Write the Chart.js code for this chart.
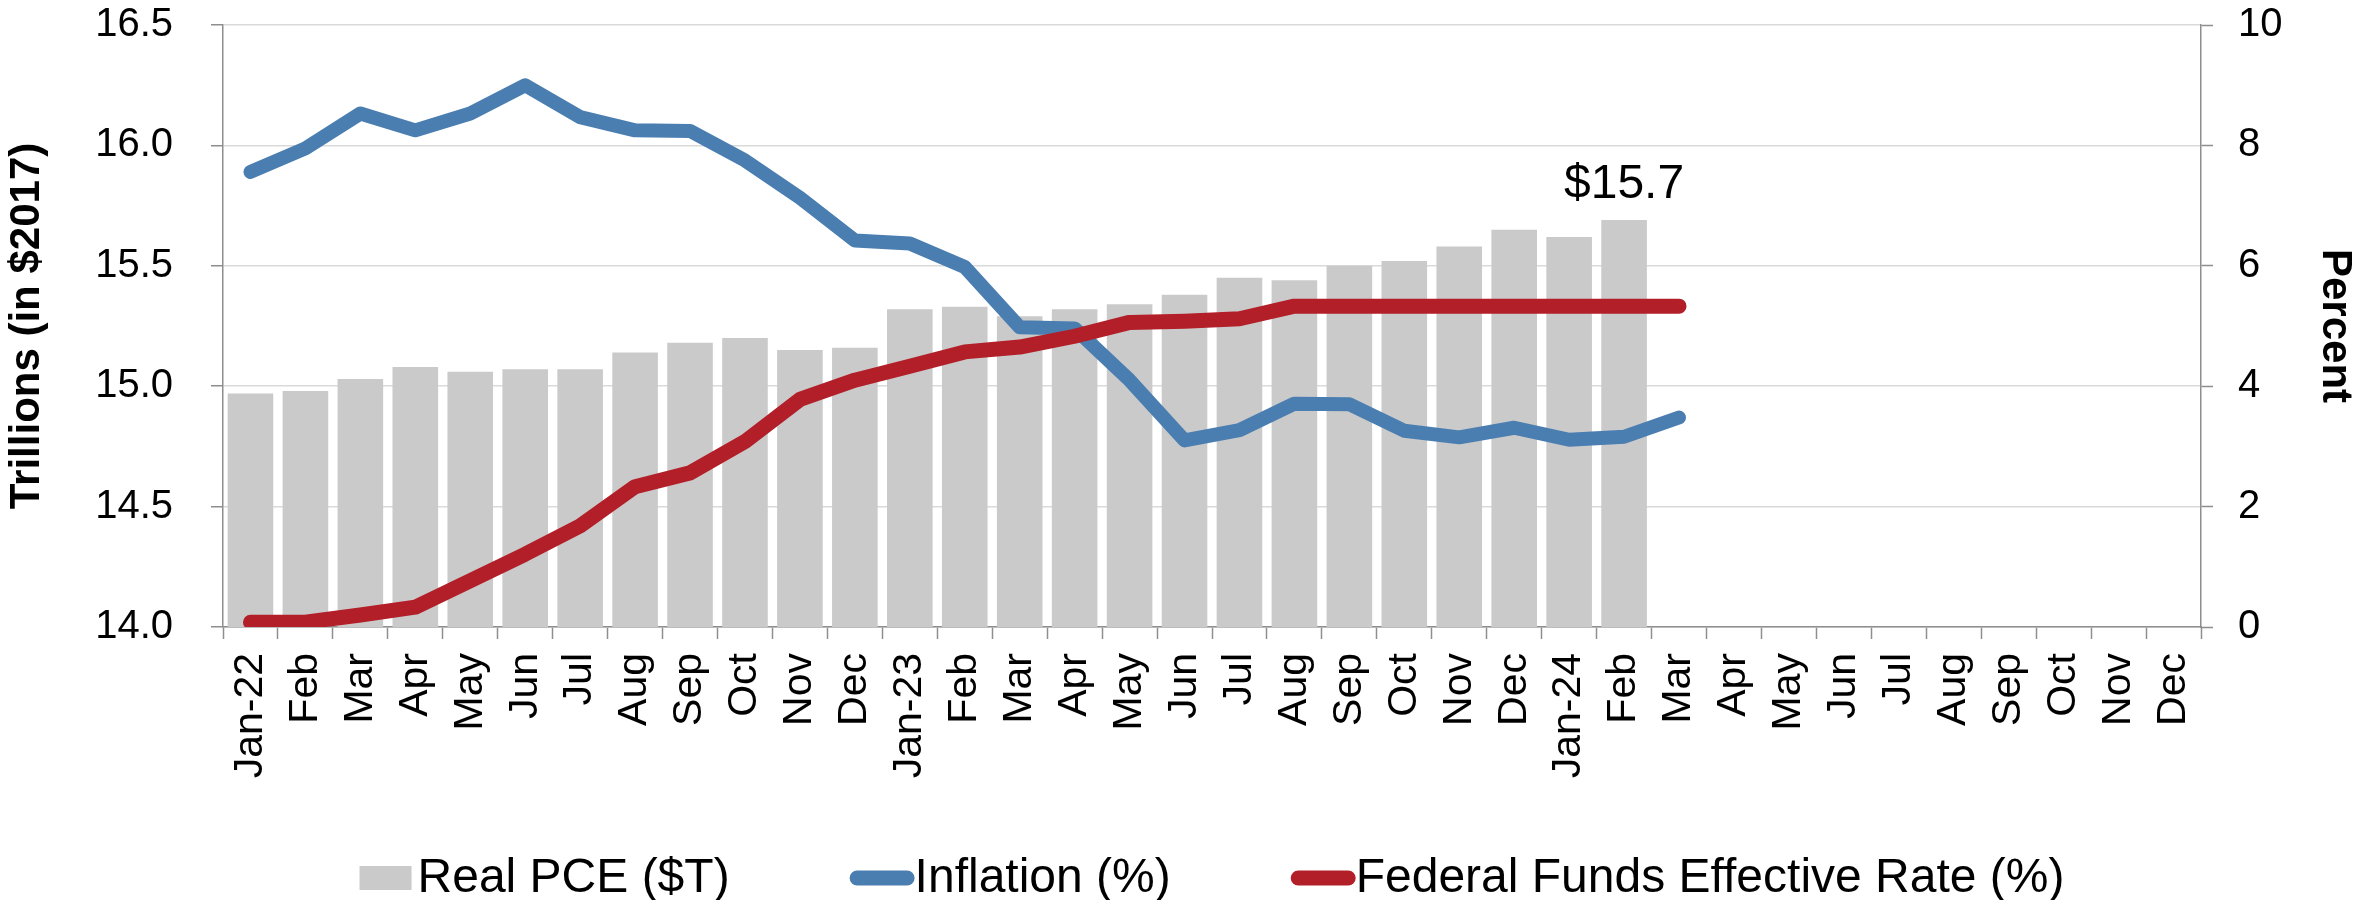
<!DOCTYPE html>
<html>
<head>
<meta charset="utf-8">
<script src="https://cdn.jsdelivr.net/npm/chart.js@4.4.1/dist/chart.umd.min.js"></script>
<style>
  html, body { margin: 0; padding: 0; background: #ffffff; }
  #wrap { width: 2369px; height: 900px; }
</style>
</head>
<body>
<div id="wrap"><canvas id="c" width="2369" height="900"></canvas></div>
<script>
// ---------- DATA ----------
const categories = ['Jan-22','Feb','Mar','Apr','May','Jun','Jul','Aug','Sep','Oct','Nov','Dec',
                    'Jan-23','Feb','Mar','Apr','May','Jun','Jul','Aug','Sep','Oct','Nov','Dec',
                    'Jan-24','Feb','Mar','Apr','May','Jun','Jul','Aug','Sep','Oct','Nov','Dec'];
// Real PCE, trillions of 2017 dollars (Jan-22 .. Feb-24)
const realPCE = [14.97, 14.98, 15.03, 15.08, 15.06, 15.07, 15.07, 15.14, 15.18, 15.20, 15.15, 15.16,
                 15.32, 15.33, 15.29, 15.32, 15.34, 15.38, 15.45, 15.44, 15.50, 15.52, 15.58, 15.65,
                 15.62, 15.69];
// Inflation, percent (Jan-22 .. Mar-24)
const inflation = [7.56, 7.95, 8.53, 8.25, 8.53, 9.00, 8.47, 8.25, 8.24, 7.75, 7.13, 6.42,
                   6.37, 5.98, 4.98, 4.96, 4.10, 3.10, 3.27, 3.71, 3.70, 3.26, 3.15, 3.31,
                   3.11, 3.16, 3.48];
// Federal Funds Effective Rate, percent (Jan-22 .. Mar-24)
const fedFunds = [0.08, 0.08, 0.20, 0.33, 0.77, 1.21, 1.68, 2.33, 2.56, 3.08, 3.78, 4.10,
                  4.33, 4.57, 4.65, 4.83, 5.06, 5.08, 5.12, 5.33, 5.33, 5.33, 5.33, 5.33,
                  5.33, 5.33, 5.33];
const leftTicks = [14.0, 14.5, 15.0, 15.5, 16.0, 16.5];
const rightTicks = [0, 2, 4, 6, 8, 10];
const seriesNames = ['Real PCE ($T)', 'Inflation (%)', 'Federal Funds Effective Rate (%)'];
const leftTitle = 'Trillions (in $2017)';
const rightTitle = 'Percent';

// ---------- STYLE ----------
const FONT = '"Liberation Sans", Arial, Helvetica, sans-serif';
const BAR_COLOR = '#cacaca';
const BLUE = '#4a7eb1';
const RED = '#b21f28';
const GRID = '#dadada';
const AXIS = '#8e8e8e';

const legendPlugin = {
  id: 'customLegend',
  afterDraw(chart) {
    const ctx = chart.ctx;
    const ca = chart.chartArea;
    ctx.save();
    ctx.font = '48px ' + FONT;
    ctx.textBaseline = 'alphabetic';
    ctx.textAlign = 'left';
    const items = chart.data.datasets.map(ds => ({
      label: ds.label,
      isBar: (ds.type || 'bar') === 'bar',
      color: ((ds.type || 'bar') === 'bar') ? ds.backgroundColor : ds.borderColor,
      lw: ds.borderWidth
    }));
    const gap = 120;
    const widths = items.map(it => (it.isBar ? 58 : 65) + ctx.measureText(it.label).width);
    const total = widths.reduce((a, b) => a + b, 0) + gap * (items.length - 1);
    let x = (ca.left + ca.right) / 2 - total / 2;
    const cy = 878;
    items.forEach((it, i) => {
      let tx;
      if (it.isBar) {
        ctx.fillStyle = it.color;
        ctx.fillRect(x, cy - 12, 52, 24);
        tx = x + 58;
      } else {
        ctx.strokeStyle = it.color;
        ctx.lineWidth = 15;
        ctx.lineCap = 'round';
        ctx.beginPath();
        ctx.moveTo(x + 7.5, cy);
        ctx.lineTo(x + 57.5, cy);
        ctx.stroke();
        tx = x + 65;
      }
      ctx.fillStyle = '#000';
      ctx.fillText(it.label, tx, cy + 14);
      x += widths[i] + gap;
    });
    ctx.restore();
  }
};

const lastValuePlugin = {
  id: 'lastValue',
  afterDatasetsDraw(chart) {
    const data = chart.data.datasets[0].data;
    let idx = -1;
    for (let i = 0; i < data.length; i++) if (data[i] != null) idx = i;
    if (idx < 0) return;
    const el = chart.getDatasetMeta(0).data[idx];
    const ctx = chart.ctx;
    ctx.save();
    ctx.font = '48px ' + FONT;
    ctx.fillStyle = '#000';
    ctx.textAlign = 'center';
    ctx.textBaseline = 'alphabetic';
    ctx.fillText('$' + data[idx].toFixed(1), el.x, el.y - 22);
    ctx.restore();
  }
};

new Chart(document.getElementById('c'), {
  type: 'bar',
  data: {
    labels: categories,
    datasets: [
      {
        type: 'bar', label: seriesNames[0], data: realPCE, yAxisID: 'y',
        backgroundColor: BAR_COLOR, borderWidth: 0,
        barPercentage: 0.83, categoryPercentage: 1.0, order: 3
      },
      {
        type: 'line', label: seriesNames[1], data: inflation, yAxisID: 'y1',
        borderColor: BLUE, backgroundColor: BLUE, borderWidth: 14,
        pointRadius: 0, pointHoverRadius: 0, tension: 0, fill: false,
        borderCapStyle: 'round', borderJoinStyle: 'round', order: 2
      },
      {
        type: 'line', label: seriesNames[2], data: fedFunds, yAxisID: 'y1',
        borderColor: RED, backgroundColor: RED, borderWidth: 15,
        pointRadius: 0, pointHoverRadius: 0, tension: 0, fill: false,
        borderCapStyle: 'round', borderJoinStyle: 'round', order: 1
      }
    ]
  },
  options: {
    responsive: false,
    maintainAspectRatio: false,
    devicePixelRatio: 1,
    animation: false,
    layout: { padding: { top: 25, left: 0, right: 0, bottom: 0 } },
    plugins: {
      legend: { display: false },
      tooltip: { enabled: false },
      title: { display: false }
    },
    scales: {
      x: {
        type: 'category',
        offset: true,
        grid: { display: true, drawOnChartArea: false, drawTicks: true, tickLength: 12,
                tickColor: AXIS, tickWidth: 1.5, offset: true },
        border: { display: true, color: AXIS, width: 1.5 },
        ticks: { autoSkip: false, minRotation: 90, maxRotation: 90, padding: 14,
                 color: '#000', font: { family: FONT, size: 41 } },
        afterFit: s => { s.height = 273; }
      },
      y: {
        position: 'left',
        min: 14, max: 16.5,
        afterBuildTicks: s => { s.ticks = leftTicks.map(v => ({ value: v })); },
        ticks: { padding: 38, color: '#000', font: { family: FONT, size: 40 },
                 callback: v => Number(v).toFixed(1) },
        grid: { color: GRID, lineWidth: 1.5, drawTicks: true, tickLength: 12,
                tickColor: AXIS, tickWidth: 1.5 },
        border: { display: true, color: AXIS, width: 1.5 },
        title: { display: true, text: leftTitle, color: '#000',
                 font: { family: FONT, size: 42, weight: 'bold' },
                 padding: { top: 2, bottom: 0 } },
        afterFit: s => { s.width = 223; s.paddingTop = 20; s.paddingBottom = 20; }
      },
      y1: {
        position: 'right',
        min: 0, max: 10,
        afterBuildTicks: s => { s.ticks = rightTicks.map(v => ({ value: v })); },
        ticks: { padding: 25, color: '#000', font: { family: FONT, size: 40 },
                 callback: v => String(v) },
        grid: { drawOnChartArea: false, drawTicks: true, tickLength: 12,
                tickColor: AXIS, tickWidth: 1.5 },
        border: { display: true, color: AXIS, width: 1.5 },
        title: { display: true, text: rightTitle, color: '#000',
                 font: { family: FONT, size: 42, weight: 'bold' },
                 padding: { top: 9, bottom: 0 } },
        afterFit: s => { s.width = 168; s.paddingTop = 20; s.paddingBottom = 20; }
      }
    }
  },
  plugins: [lastValuePlugin, legendPlugin]
});
</script>
</body>
</html>
